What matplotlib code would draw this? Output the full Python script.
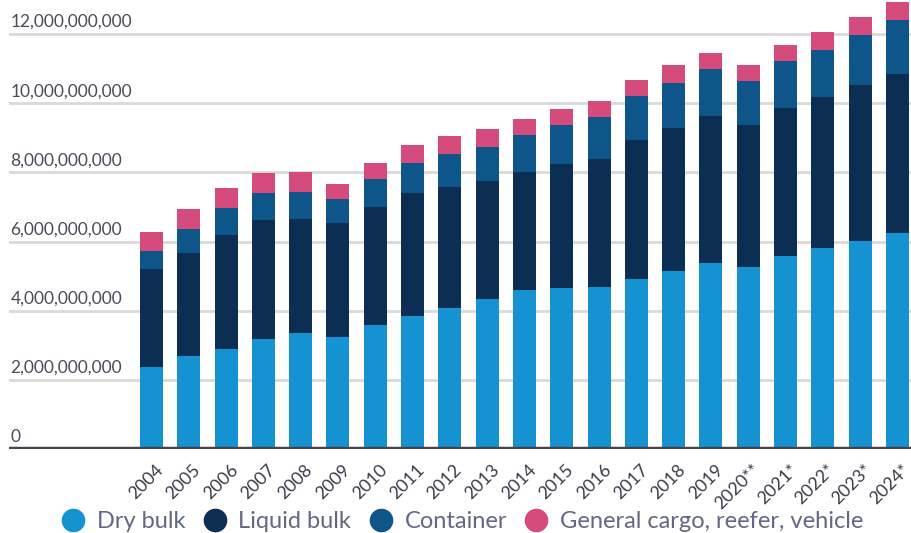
import matplotlib
matplotlib.use("Agg")
import matplotlib.pyplot as plt
from matplotlib.lines import Line2D
import numpy as np

years = ["2004", "2005", "2006", "2007", "2008", "2009", "2010", "2011", "2012", "2013",
         "2014", "2015", "2016", "2017", "2018", "2019", "2020**", "2021*", "2022*", "2023*", "2024*"]
dry_bulk = [2.37, 2.69, 2.89, 3.18, 3.35, 3.24, 3.58, 3.84, 4.08, 4.33,
            4.60, 4.65, 4.68, 4.91, 5.15, 5.38, 5.26, 5.58, 5.81, 6.01, 6.25]
liquid_bulk = [2.83, 2.98, 3.30, 3.44, 3.30, 3.30, 3.42, 3.56, 3.50, 3.42,
               3.41, 3.59, 3.71, 4.03, 4.14, 4.25, 4.11, 4.28, 4.37, 4.52, 4.60]
container = [0.52, 0.69, 0.78, 0.78, 0.78, 0.69, 0.81, 0.87, 0.95, 0.98,
             1.07, 1.13, 1.21, 1.27, 1.30, 1.36, 1.27, 1.36, 1.36, 1.45, 1.56]
general = [0.55, 0.58, 0.58, 0.58, 0.58, 0.43, 0.46, 0.52, 0.52, 0.52,
           0.46, 0.46, 0.47, 0.46, 0.52, 0.47, 0.47, 0.47, 0.52, 0.52, 0.52]
series_names = ["Dry bulk", "Liquid bulk", "Container", "General cargo, reefer, vehicle"]
colors = ["#1592d2", "#0c2e52", "#0e5689", "#d44b7c"]
yticks = [0, 2e9, 4e9, 6e9, 8e9, 10e9, 12e9]

plt.rcParams['font.family'] = ['Lato', 'DejaVu Sans']

fig = plt.figure(figsize=(9.12, 5.33), dpi=100)
ax = fig.add_axes([9/912, (533-448.8)/533, 903/912, 448.8/533])

x = np.arange(len(years))
data = [np.array(s) * 1e9 for s in (dry_bulk, liquid_bulk, container, general)]
bottom = np.zeros(len(years))
for vals, c in zip(data, colors):
    ax.bar(x, vals, bottom=bottom, width=0.617, color=c, zorder=3)
    bottom += vals

ax.set_xlim(-3.82, 20.39)
ax.set_ylim(0, 12.99e9)

for yv in yticks:
    if yv > 0:
        ax.axhline(yv, color="#d9d9d9", lw=2, zorder=1)
    ax.text(0.0015, yv + 0.12e9, f"{int(yv):,}", transform=ax.get_yaxis_transform(),
            ha="left", va="bottom", fontsize=12.5, color="#4b4b5a")

ax.axhline(0, color="#45454f", lw=3.2, zorder=4)
for s in ax.spines.values():
    s.set_visible(False)
ax.set_yticks([])
ax.set_xticks(x + 0.1)
ax.set_xticklabels(years, rotation=45, ha="right", rotation_mode="anchor",
                   fontsize=12.8, color="#3a3a48")
ax.tick_params(axis="x", length=0, pad=9)

handles = [Line2D([], [], marker="o", linestyle="none", markersize=16,
                  markerfacecolor=c, markeredgecolor=c) for c in colors]
fig.legend(handles, series_names, loc="center", bbox_to_anchor=(0.507, 0.022),
           ncol=4, frameon=False, fontsize=17, labelcolor="#626882",
           handlelength=1.0, handletextpad=0.5, columnspacing=0.75, borderaxespad=0,
           borderpad=0)

fig.savefig("out.png", dpi=100)
